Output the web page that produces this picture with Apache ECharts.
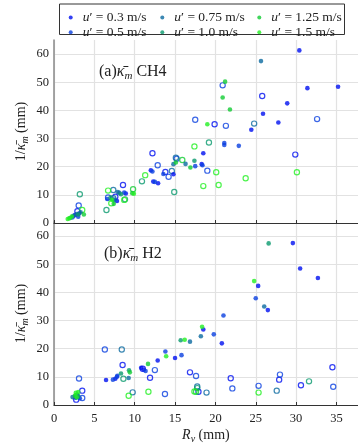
<!DOCTYPE html>
<html><head><meta charset="utf-8">
<script src="https://cdn.jsdelivr.net/npm/echarts@6/dist/echarts.min.js"></script>
<style>html,body{margin:0;padding:0;background:#fff}#c{width:358px;height:447px}</style>
</head><body><div id="c"></div>
<script>
// speed categories (u' in m/s) and their colours
const speeds = ['0.3', '0.5', '0.75', '1.0', '1.25', '1.5'];
const speedColors = ['#0010f0', '#0a40e0', '#0b6aa0', '#0a9a6e', '#11cc33', '#22f022'];
const xTickStep = 5;
const yTickStep = 10;

// CH4 (panel a) filled markers [Rv, 1/kappa]
const ch4Fill_03 = [[30.4,61.3],[31.4,47.9],[35.2,48.4],[28.9,42.5],[25.9,38.8],[27.8,35.7],[24.45,33.1],[18.5,24.8],[18.3,20.9],[14.8,17.3],[12.0,18.7],[12.3,14.7],[12.9,14.1],[8.9,10.5],[7.8,7.8],[2.6,2.8],[3.1,3.4]];
const ch4Fill_05 = [[22.9,27.4],[21.1,28.4],[21.1,27.7],[17.5,20.2],[18.4,20.5],[13.55,17.4],[12.2,18.3],[12.5,14.6],[8.7,10.8],[6.6,8.5],[3.0,2.2],[2.3,2.0]];
const ch4Fill_075 = [[25.65,57.5],[14.8,20.9],[16.3,21.0],[7.9,11.0],[8.1,10.7],[7.5,8.3],[2.4,2.6],[2.8,3.2],[3.3,3.8]];
const ch4Fill_10 = [[17.4,22.1],[8.3,10.2],[2.0,1.8],[3.0,3.0],[7.0,9.0]];
const ch4Fill_125 = [[21.2,50.2],[20.9,44.6],[21.8,40.3],[15.1,21.5],[16.9,19.7],[3.7,3.0],[9.7,10.6],[7.4,6.8]];
const ch4Fill_15 = [[19.0,35.1],[1.7,1.4],[1.9,1.7],[2.2,2.3],[9.9,10.4],[7.2,8.2]];
// CH4 open markers
const ch4Open_03 = [[19.9,35.1],[25.8,45.1],[29.9,24.3],[12.2,24.8],[13.8,18.1],[8.55,13.5],[7.6,9.3],[2.9,4.2]];
const ch4Open_05 = [[17.5,36.7],[21.3,34.5],[20.9,48.9],[32.6,36.9],[19.0,18.6],[15.2,22.8],[12.85,20.5],[14.2,16.4],[6.7,9.1],[3.06,6.2]];
const ch4Open_075 = [[24.8,35.3],[15.1,23.2],[14.6,18.5],[7.35,11.7],[7.35,8.8]];
const ch4Open_10 = [[19.2,28.6],[10.9,14.8],[14.9,11.0],[3.2,10.2],[6.5,4.6],[8.8,8.4]];
const ch4Open_125 = [[15.9,22.4],[9.8,12.0]];
const ch4Open_15 = [[17.4,27.2],[11.3,17.0],[20.1,18.0],[23.75,15.9],[18.5,13.1],[20.4,13.5],[30.1,18.0],[6.7,11.5],[7.1,7.0],[8.7,8.2],[3.5,4.6]];

// H2 (panel b) filled markers
const h2Fill_03 = [[29.6,57.5],[30.5,48.5],[32.7,45.1],[25.3,42.3],[26.5,33.7],[18.5,26.8],[20.8,21.9],[15.0,16.7],[12.85,15.8],[10.8,13.2],[11.1,12.6],[6.45,8.9],[7.6,9.3],[2.7,2.6]];
const h2Fill_05 = [[25.0,37.9],[21.0,31.8],[19.8,25.1],[15.8,17.7],[13.8,19.0],[11.35,12.1],[7.3,9.0],[7.8,10.0],[7.85,10.4],[3.2,2.4]];
const h2Fill_075 = [[26.05,35.0],[18.2,24.4],[16.85,22.5],[9.25,9.6],[2.3,2.8],[2.9,3.6]];
const h2Fill_10 = [[26.6,57.4],[15.7,23.0],[8.3,11.2],[9.3,12.3],[3.0,3.0]];
const h2Fill_125 = [[11.65,14.6],[9.4,11.6],[2.6,3.3]];
const h2Fill_15 = [[24.8,44.0],[18.35,27.8],[16.2,23.2],[13.9,17.3],[2.7,4.3],[3.0,4.6],[2.8,2.7]];
// H2 open markers
const h2Open_03 = [[34.5,13.4],[30.6,7.0],[27.9,9.0],[21.9,9.5],[16.85,11.6],[17.9,4.7],[11.0,12.9],[11.9,9.7],[8.5,14.2],[3.5,5.1],[2.75,1.9]];
const h2Open_05 = [[34.6,6.5],[28.0,10.8],[25.35,6.8],[22.1,5.9],[17.6,10.3],[13.75,3.9],[12.5,12.4],[6.3,19.7],[3.1,9.4],[3.5,2.5]];
const h2Open_075 = [[8.4,19.7],[27.6,5.1],[18.9,4.4],[17.75,6.6],[9.75,4.5]];
const h2Open_10 = [[31.6,8.4],[17.75,6.0],[8.6,9.3]];
const h2Open_125 = [[17.6,4.7]];
const h2Open_15 = [[25.35,4.4],[17.4,4.8],[11.7,4.7],[9.25,3.3],[2.8,3.2]];

const ch4Fill = [ch4Fill_03, ch4Fill_05, ch4Fill_075, ch4Fill_10, ch4Fill_125, ch4Fill_15];
const ch4Open = [ch4Open_03, ch4Open_05, ch4Open_075, ch4Open_10, ch4Open_125, ch4Open_15];
const h2Fill = [h2Fill_03, h2Fill_05, h2Fill_075, h2Fill_10, h2Fill_125, h2Fill_15];
const h2Open = [h2Open_03, h2Open_05, h2Open_075, h2Open_10, h2Open_125, h2Open_15];

const FONT = 'Liberation Serif';
const chart = echarts.init(document.getElementById('c'), null, {renderer: 'canvas'});

const series = [];
function addSeries(arr, gridIdx, open) {
  arr.forEach((data, i) => {
    series.push({
      type: 'scatter',
      name: open ? speeds[i] + ' open' : speeds[i],
      xAxisIndex: gridIdx, yAxisIndex: gridIdx,
      symbol: 'circle',
      symbolSize: open ? 5.2 : 4.6,
      itemStyle: open
        ? {color: 'rgba(255,255,255,0)', borderColor: speedColors[i], borderWidth: 1.2}
        : {color: speedColors[i]},
      emphasis: {disabled: true},
      data: data
    });
  });
}
addSeries(ch4Open, 0, true);
addSeries(h2Open, 1, true);
addSeries(ch4Fill, 0, false);
addSeries(h2Fill, 1, false);

function xAxis(gridIndex, showLabels) {
  return {
    type: 'value', gridIndex, min: 0, max: 40, interval: xTickStep,
    axisLine: {show: true, onZero: false, lineStyle: {color: '#333', width: 1}},
    axisTick: {show: true, inside: true, length: 3, lineStyle: {color: '#333'}},
    axisLabel: {show: showLabels, fontFamily: FONT, fontSize: 12.5, color: '#222', margin: 7},
    splitLine: {show: true, lineStyle: {color: '#e2e2e2', width: 1.2}},
    name: showLabels ? '{i|R}{s|v} (mm)' : '',
    nameLocation: 'middle', nameGap: 20,
    nameTextStyle: {fontFamily: FONT, fontSize: 14, color: '#222', padding: [0, 19, 0, 0], lineHeight: 18,
      rich: {i: {fontFamily: FONT, fontStyle: 'italic', fontSize: 14, lineHeight: 18},
             s: {fontFamily: FONT, fontStyle: 'italic', fontSize: 10, lineHeight: 10, verticalAlign: 'bottom'}}}
  };
}
function yAxis(gridIndex) {
  return {
    type: 'value', gridIndex, min: 0, max: 65, interval: yTickStep,
    axisLine: {show: true, lineStyle: {color: '#8a8a8a', width: 1.5}},
    axisTick: {show: false},
    axisLabel: {fontFamily: FONT, fontSize: 12.5, color: '#222', margin: 5, showMaxLabel: false},
    splitLine: {show: true, showMaxLine: false, lineStyle: {color: '#e2e2e2', width: 1.2}},
    name: '1/{k|κ̄}{s|m} (mm)',
    nameLocation: 'middle', nameGap: 24, nameMoveOverlap: false,
    nameTextStyle: {fontFamily: FONT, fontSize: 14, color: '#222', lineHeight: 18,
      rich: {k: {fontFamily: FONT, fontStyle: 'italic', fontSize: 14, lineHeight: 18},
             s: {fontFamily: FONT, fontStyle: 'italic', fontSize: 10, lineHeight: 10, verticalAlign: 'bottom'}}}
  };
}

const legendRich = {i: {fontFamily: FONT, fontStyle: 'italic', fontSize: 13.5, lineHeight: 13}};
function legend(left, names) {
  return {
    left, top: 5.5, orient: 'vertical', itemGap: 0.8,
    itemWidth: 14, itemHeight: 4, icon: 'circle',
    data: names,
    formatter: n => '{i|u}′ = ' + n + ' m/s',
    textStyle: {fontFamily: FONT, fontSize: 13.5, color: '#222', lineHeight: 13, rich: legendRich},
    selectedMode: false
  };
}

const annoRich = {
  k: {fontFamily: FONT, fontStyle: 'italic', fontSize: 16, lineHeight: 20},
  s: {fontFamily: FONT, fontStyle: 'italic', fontSize: 11, lineHeight: 10, verticalAlign: 'bottom'}
};

chart.setOption({
  animation: false,
  backgroundColor: '#fff',
  grid: [
    {left: 54, top: 40, width: 322.8, height: 183, containLabel: false, outerBoundsMode: 'none'},
    {left: 54, top: 222, width: 322.8, height: 183, containLabel: false, outerBoundsMode: 'none'}
  ],
  xAxis: [xAxis(0, false), xAxis(1, true)],
  yAxis: [yAxis(0), yAxis(1)],
  legend: [
    legend(63.7, ['0.3', '0.5']),
    legend(155.3, ['0.75', '1.0']),
    legend(252.3, ['1.25', '1.5'])
  ],
  graphic: [
    {type: 'rect', z: 0, shape: {x: 59.5, y: 4, width: 285, height: 30.5},
     style: {fill: '#fff', stroke: '#333', lineWidth: 1}},
    {type: 'text', z: 10, left: 99, top: 62,
     style: {text: '(a){k|κ̄}{s|m} CH4', fontFamily: FONT, fontSize: 16, fill: '#222', lineHeight: 20, rich: annoRich}},
    {type: 'text', z: 10, left: 104, top: 244,
     style: {text: '(b){k|κ̄}{s|m} H2', fontFamily: FONT, fontSize: 16, fill: '#222', lineHeight: 20, rich: annoRich}}
  ],
  series
});
</script>
</body></html>
